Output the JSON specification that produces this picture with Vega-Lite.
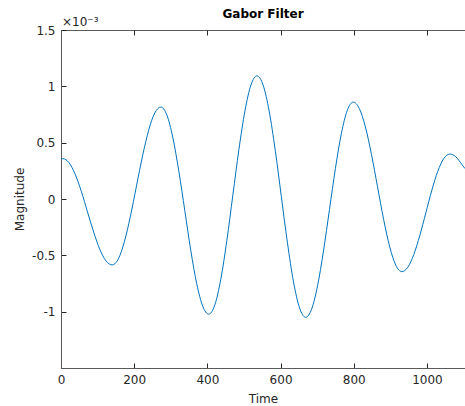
{
  "$schema": "https://vega.github.io/schema/vega-lite/v6.json",
  "width": 404,
  "height": 338,
  "autosize": {"type": "none"},
  "padding": {"left": 61, "top": 30, "right": 0, "bottom": 38},
  "title": {"text": "Gabor Filter", "fontSize": 12, "fontWeight": "bold", "anchor": "middle", "offset": -5, "color": "#000000", "font": "DejaVu Sans"},
  "config": {
    "font": "DejaVu Sans",
    "view": {"stroke": "#5a5a5a", "strokeWidth": 1},
    "axis": {"grid": false, "domainColor": "#5a5a5a", "tickColor": "#262626", "labelColor": "#262626", "titleColor": "#262626", "labelFontSize": 12, "titleFontSize": 12, "titleFontWeight": "normal", "tickSize": -5, "labelPadding": 11, "labelFlush": false, "labelFont": "DejaVu Sans", "titleFont": "DejaVu Sans"}
  },
  "datasets": {
    "gabor": [
      {"time": 0, "magnitude": 0.000357},
      {"time": 5, "magnitude": 0.000358},
      {"time": 21.8, "magnitude": 0.000322},
      {"time": 38.7, "magnitude": 0.000220},
      {"time": 55.6, "magnitude": 0.000067},
      {"time": 72.4, "magnitude": -0.000114},
      {"time": 89.3, "magnitude": -0.000294},
      {"time": 106.1, "magnitude": -0.000447},
      {"time": 123, "magnitude": -0.000549},
      {"time": 139.9, "magnitude": -0.000585},
      {"time": 156.7, "magnitude": -0.000532},
      {"time": 173.1, "magnitude": -0.000380},
      {"time": 189.7, "magnitude": -0.000153},
      {"time": 206.3, "magnitude": 0.000116},
      {"time": 223, "magnitude": 0.000384},
      {"time": 239.6, "magnitude": 0.000611},
      {"time": 256.2, "magnitude": 0.000763},
      {"time": 272.8, "magnitude": 0.000816},
      {"time": 289.2, "magnitude": 0.000746},
      {"time": 305.5, "magnitude": 0.000547},
      {"time": 321.9, "magnitude": 0.000249},
      {"time": 338.3, "magnitude": -0.000103},
      {"time": 354.6, "magnitude": -0.000455},
      {"time": 371, "magnitude": -0.000753},
      {"time": 387.4, "magnitude": -0.000952},
      {"time": 403.7, "magnitude": -0.001022},
      {"time": 420.2, "magnitude": -0.000942},
      {"time": 436.7, "magnitude": -0.000712},
      {"time": 453.2, "magnitude": -0.000369},
      {"time": 469.7, "magnitude": 0.000036},
      {"time": 486.2, "magnitude": 0.000440},
      {"time": 502.7, "magnitude": 0.000783},
      {"time": 519.2, "magnitude": 0.001013},
      {"time": 535.7, "magnitude": 0.001093},
      {"time": 552.3, "magnitude": 0.001011},
      {"time": 568.9, "magnitude": 0.000779},
      {"time": 585.5, "magnitude": 0.000432},
      {"time": 602.1, "magnitude": 0.000022},
      {"time": 618.8, "magnitude": -0.000389},
      {"time": 635.4, "magnitude": -0.000736},
      {"time": 652, "magnitude": -0.000968},
      {"time": 668.6, "magnitude": -0.001050},
      {"time": 684.9, "magnitude": -0.000977},
      {"time": 701.1, "magnitude": -0.000770},
      {"time": 717.3, "magnitude": -0.000461},
      {"time": 733.6, "magnitude": -0.000095},
      {"time": 749.9, "magnitude": 0.000271},
      {"time": 766.1, "magnitude": 0.000580},
      {"time": 782.3, "magnitude": 0.000787},
      {"time": 798.6, "magnitude": 0.000860},
      {"time": 815.2, "magnitude": 0.000803},
      {"time": 831.8, "magnitude": 0.000640},
      {"time": 848.4, "magnitude": 0.000396},
      {"time": 865, "magnitude": 0.000108},
      {"time": 881.6, "magnitude": -0.000181},
      {"time": 898.3, "magnitude": -0.000425},
      {"time": 914.9, "magnitude": -0.000588},
      {"time": 931.5, "magnitude": -0.000645},
      {"time": 947.9, "magnitude": -0.000605},
      {"time": 964.2, "magnitude": -0.000492},
      {"time": 980.6, "magnitude": -0.000323},
      {"time": 997, "magnitude": -0.000123},
      {"time": 1013.3, "magnitude": 0.000077},
      {"time": 1029.7, "magnitude": 0.000246},
      {"time": 1046.1, "magnitude": 0.000359},
      {"time": 1062.4, "magnitude": 0.000399},
      {"time": 1078.9, "magnitude": 0.000375},
      {"time": 1095.2, "magnitude": 0.000308},
      {"time": 1104, "magnitude": 0.000270}
    ]
  },
  "layer": [
    {
      "data": {"name": "gabor"},
      "mark": {"type": "line", "color": "#0072BD", "strokeWidth": 1, "interpolate": "monotone"},
      "encoding": {
        "x": {"field": "time", "type": "quantitative", "scale": {"domain": [0, 1104], "nice": false, "zero": false},
              "axis": {"title": "Time", "values": [0, 200, 400, 600, 800, 1000], "format": "d", "titlePadding": 8}},
        "y": {"field": "magnitude", "type": "quantitative", "scale": {"domain": [-0.0015, 0.0015], "nice": false, "zero": false},
              "axis": {"title": "Magnitude", "values": [-0.001, -0.0005, 0, 0.0005, 0.001, 0.0015], "labelExpr": "toString(round(datum.value*10000)/10)", "titlePadding": 5}}
      }
    },
    {
      "data": {"name": "gabor"},
      "mark": {"type": "line", "opacity": 0},
      "encoding": {
        "x": {"field": "time", "type": "quantitative", "axis": {"orient": "top", "labels": false, "domain": false, "title": null, "values": [0, 200, 400, 600, 800, 1000]}},
        "y": {"field": "magnitude", "type": "quantitative", "axis": null}
      }
    },
    {
      "data": {"values": [{"time": 0, "magnitude": 0.0015, "label": "×10⁻³"}]},
      "mark": {"type": "text", "align": "left", "baseline": "alphabetic", "dx": 1, "dy": -4, "fontSize": 12, "color": "#262626"},
      "encoding": {
        "x": {"field": "time", "type": "quantitative", "axis": null},
        "y": {"field": "magnitude", "type": "quantitative", "axis": null},
        "text": {"field": "label"}
      }
    }
  ],
  "resolve": {"axis": {"x": "independent", "y": "independent"}}
}
